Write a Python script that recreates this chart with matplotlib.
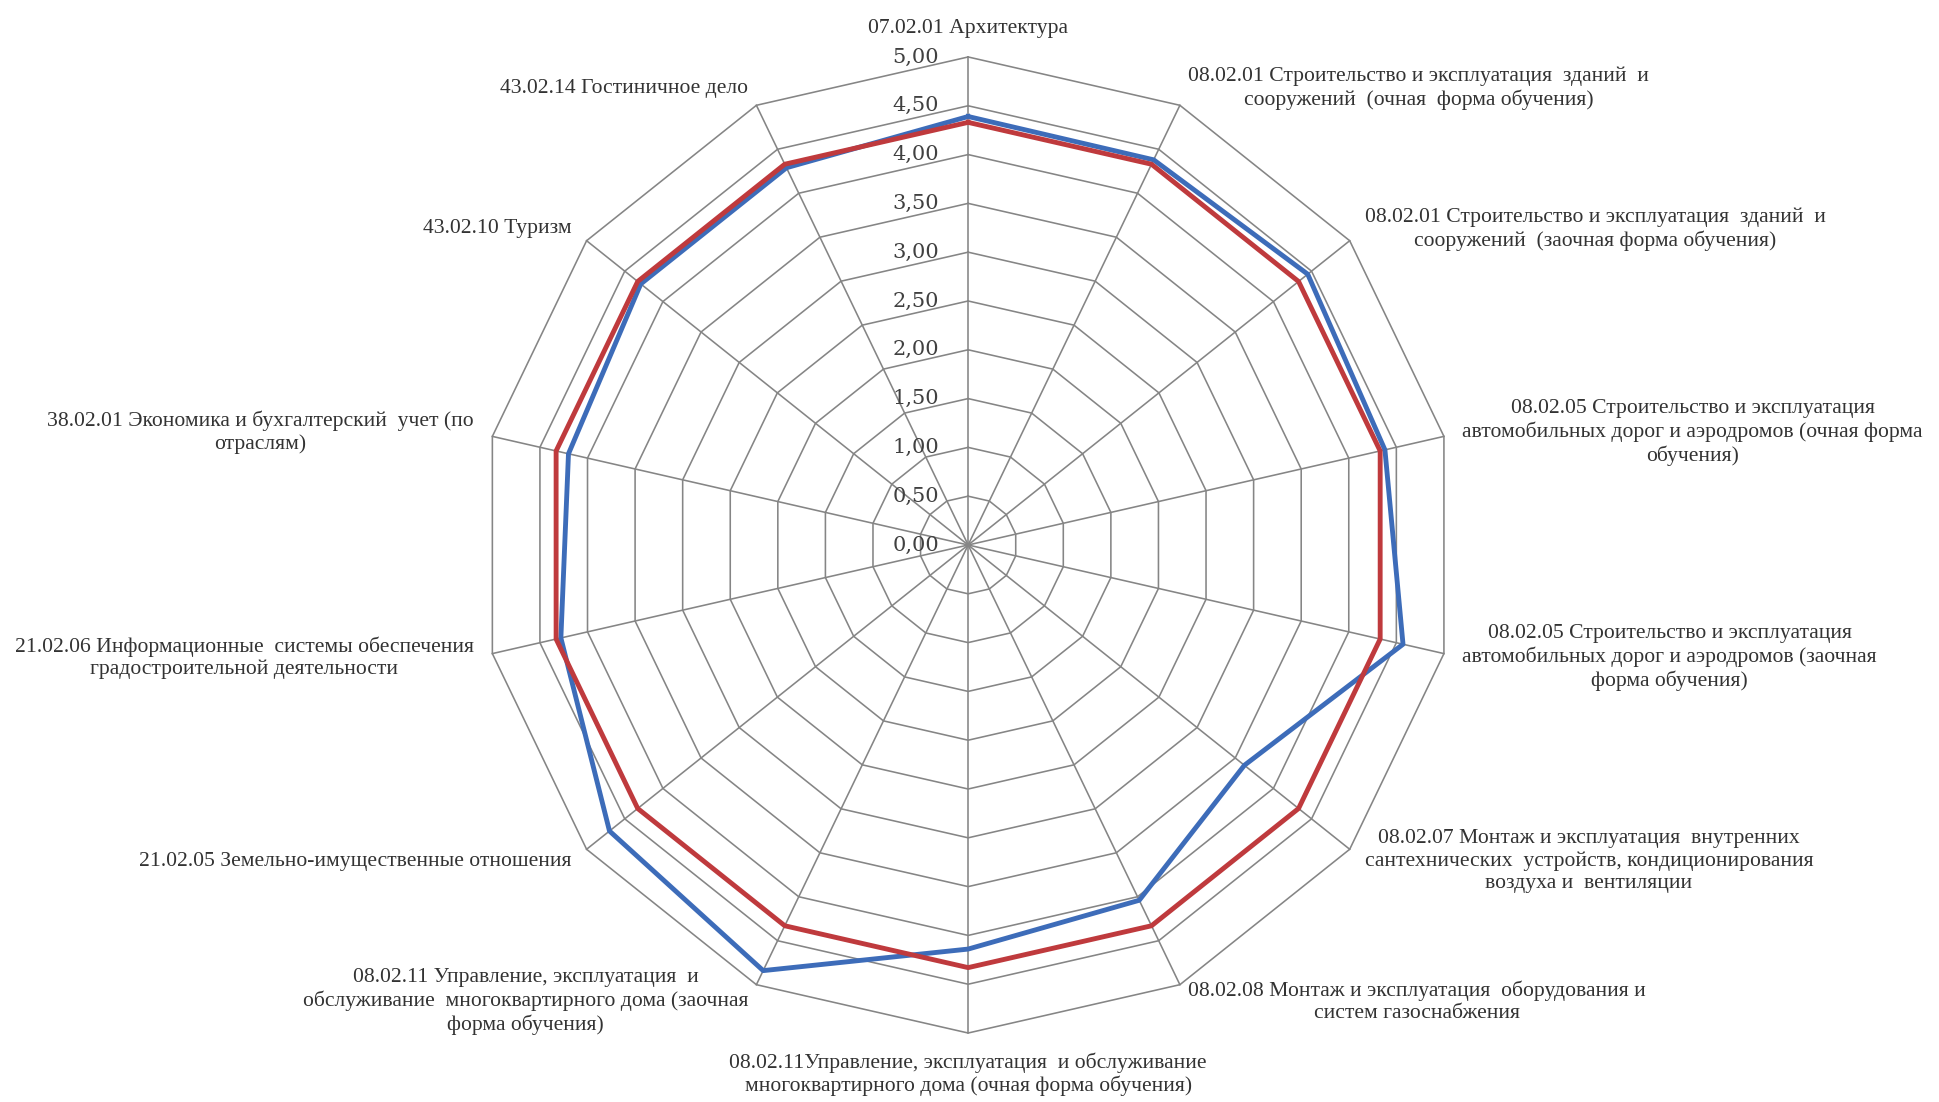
import numpy as np
import matplotlib
matplotlib.use("Agg")
from matplotlib import pyplot as plt

categories = [
    "07.02.01 Архитектура",
    "08.02.01 Строительство и эксплуатация  зданий  и\nсооружений  (очная  форма обучения)",
    "08.02.01 Строительство и эксплуатация  зданий  и\nсооружений  (заочная форма обучения)",
    "08.02.05 Строительство и эксплуатация\nавтомобильных дорог и аэродромов (очная форма\nобучения)",
    "08.02.05 Строительство и эксплуатация\nавтомобильных дорог и аэродромов (заочная\nформа обучения)",
    "08.02.07 Монтаж и эксплуатация  внутренних\nсантехнических  устройств, кондиционирования\nвоздуха и  вентиляции",
    "08.02.08 Монтаж и эксплуатация  оборудования и\nсистем газоснабжения",
    "08.02.11Управление, эксплуатация  и обслуживание\nмногоквартирного дома (очная форма обучения)",
    "08.02.11 Управление, эксплуатация  и\nобслуживание  многоквартирного дома (заочная\nформа обучения)",
    "21.02.05 Земельно-имущественные отношения",
    "21.02.06 Информационные  системы обеспечения\nградостроительной деятельности",
    "38.02.01 Экономика и бухгалтерский  учет (по\nотраслям)",
    "43.02.10 Туризм",
    "43.02.14 Гостиничное дело",
]

blue_vals = [4.39, 4.38, 4.45, 4.38, 4.57, 3.62, 4.04, 4.14, 4.84, 4.70, 4.28, 4.20, 4.29, 4.29]
red_vals = [4.33, 4.33, 4.33, 4.33, 4.33, 4.33, 4.33, 4.33, 4.33, 4.33, 4.33, 4.33, 4.33, 4.33]

ticks = [0.0, 0.5, 1.0, 1.5, 2.0, 2.5, 3.0, 3.5, 4.0, 4.5, 5.0]

n = len(categories)
theta = np.arange(n) * 2 * np.pi / n
theta_c = np.append(theta, theta[0])

fig = plt.figure(figsize=(19.39, 11.02), dpi=100)
ax = fig.add_axes([0.2476, 0.0626, 0.5034, 0.8857], projection="polar")
ax.set_theta_zero_location("N")
ax.set_theta_direction(-1)
ax.set_ylim(0, 5)
ax.set_xticks([])
ax.set_yticks([])
ax.grid(False)
ax.spines["polar"].set_visible(False)
ax.patch.set_alpha(0)

grid_col = "#858585"
for r in ticks[1:]:
    ax.plot(theta_c, [r] * (n + 1), color=grid_col, lw=1.15, zorder=1, clip_on=False)
for t in theta:
    ax.plot([t, t], [0, 5], color=grid_col, lw=1.15, zorder=1, clip_on=False)

ax.plot(theta_c, blue_vals + blue_vals[:1], color="#3d6cb9", lw=3.5, zorder=3, clip_on=False)
ax.plot(theta_c, red_vals + red_vals[:1], color="#bf3a3d", lw=3.5, zorder=4, clip_on=False)

# radial tick labels left of the top spoke
for v in ticks:
    ax.annotate(f"{v:.2f}".replace(".", ","), xy=(0, v), xytext=(-29, 0),
                textcoords="offset pixels", ha="right", va="center",
                fontsize=15, family="DejaVu Serif", color="#404040")

# category labels
d = 19
for t, lab in zip(theta, categories):
    s, c = np.sin(t), np.cos(t)
    if abs(s) < 1e-6:
        ha = "center"
        va = "bottom" if c > 0 else "top"
    else:
        ha = "left" if s > 0 else "right"
        va = "center"
    ax.annotate(lab, xy=(t, 5), xytext=(d * s, d * c), textcoords="offset pixels",
                ha=ha, va=va, multialignment="center", linespacing=1.22,
                fontsize=15.6, family="Liberation Serif", color="#333333",
                annotation_clip=False)

fig.savefig("out.png", dpi=100)
